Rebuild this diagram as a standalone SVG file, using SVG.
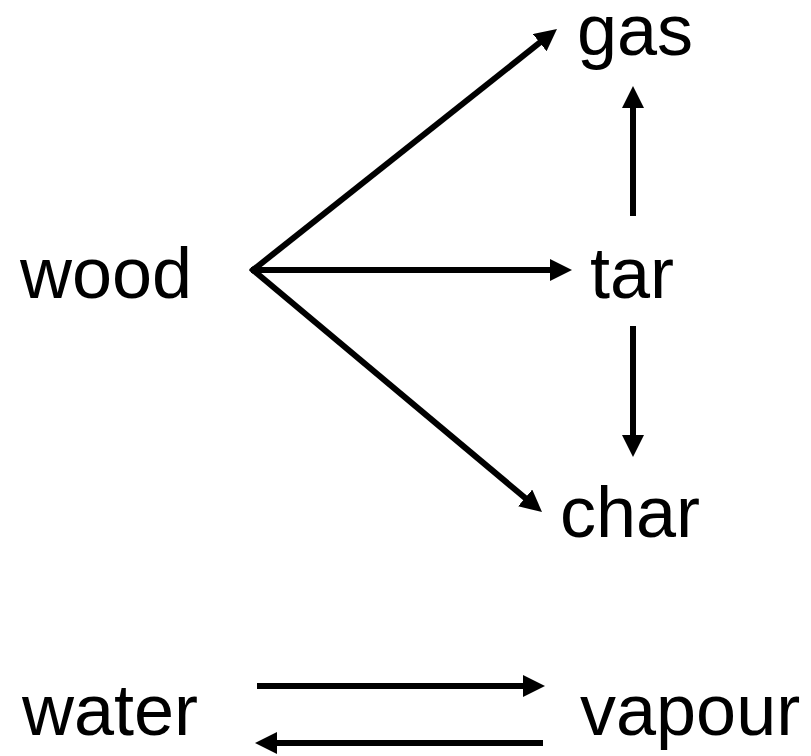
<svg xmlns="http://www.w3.org/2000/svg" width="811" height="756" viewBox="0 0 811 756">
<style>
text{font-family:"Liberation Sans",Arial,sans-serif;font-size:72px;fill:#000}
.c line{stroke:#000;stroke-width:6;fill:none;marker-end:url(#ah)}
</style>
<defs>
<marker id="ah" markerUnits="userSpaceOnUse" markerWidth="22" markerHeight="22" viewBox="0 -11 22 22" refX="2" refY="0" orient="auto">
<path d="M0,-11 L22,0 L0,11 z" fill="#000"/>
</marker>
</defs>
<rect width="811" height="756" fill="#fff"/>
<g class="c" id="connectors">
<line x1="251" y1="271.6" x2="541.3" y2="41.4"/>
<line x1="251" y1="270" x2="552" y2="270"/>
<line x1="251" y1="268.3" x2="526.7" y2="499.2"/>
<line x1="633" y1="216" x2="633" y2="106"/>
<line x1="633" y1="326" x2="633" y2="437"/>
<line x1="257" y1="686" x2="525" y2="686"/>
<line x1="543" y1="743" x2="275" y2="743"/>
</g>
<g id="wood"><text x="20" y="298">wood</text></g>
<g id="gas"><text x="577" y="55">gas</text></g>
<g id="tar"><text x="590" y="298">tar</text></g>
<g id="char"><text x="560" y="537">char</text></g>
<g id="water"><text x="22" y="735">water</text></g>
<g id="vapour"><text x="580" y="735">vapour</text></g>
</svg>
